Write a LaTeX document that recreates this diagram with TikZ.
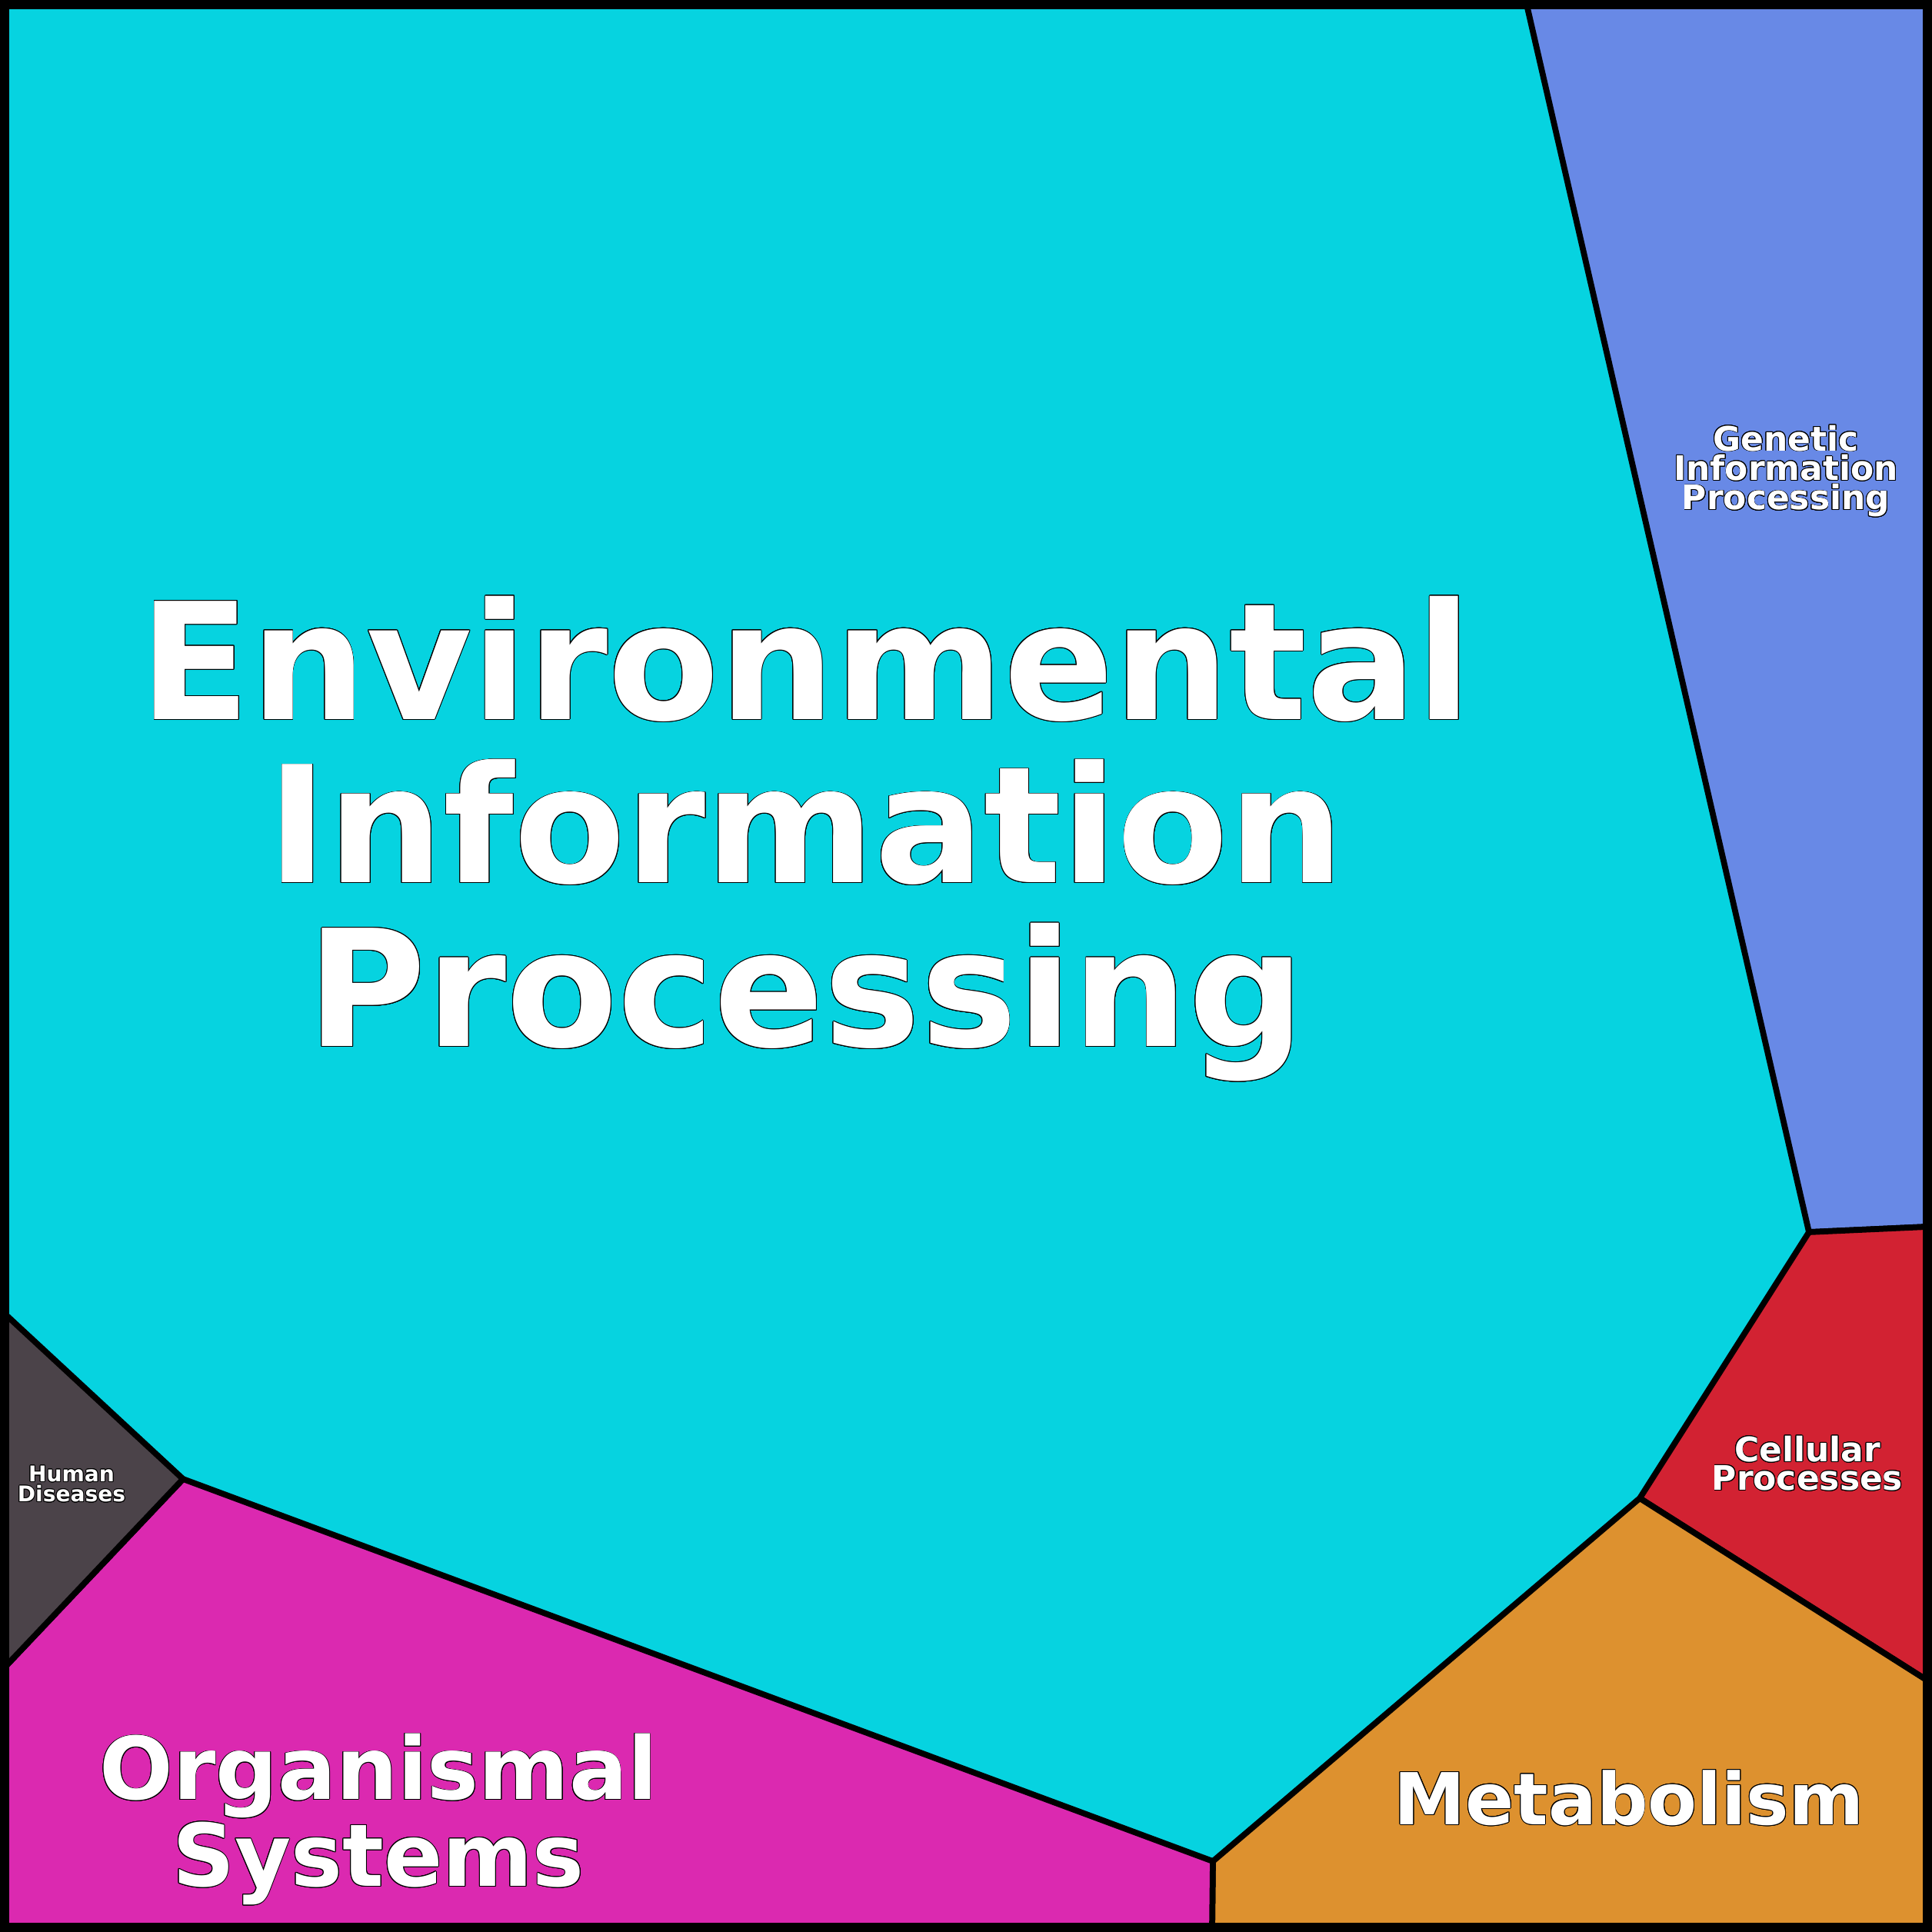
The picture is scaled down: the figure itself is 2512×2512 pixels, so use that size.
\documentclass[tikz,border=0pt]{standalone}
\usepackage{fontspec}
\setmainfont{DejaVu Sans}
\usepackage[copies]{contour}
\contourlength{0.25pt}
\definecolor{envcol}{HTML}{06D3E0}
\definecolor{gencol}{HTML}{6889E6}
\definecolor{celcol}{HTML}{D22232}
\definecolor{metcol}{HTML}{DD912F}
\definecolor{orgcol}{HTML}{DB29B0}
\definecolor{humcol}{HTML}{4B4349}
\newcommand{\ct}[1]{\contour{black}{#1}}

\begin{document}
\begin{tikzpicture}[x=0.01cm,y=-0.01cm,
	cell/.style={draw=black,line width=2.2pt,line join=round},
	lbl/.style={text=white,font=\bfseries,align=center,inner sep=0pt}]
	\useasboundingbox (0,0) rectangle (2512,2512);
	% cells
	\fill[envcol] (6,6) rectangle (2506,2506);
	\draw[cell,fill=gencol] (1985,6) -- (2352,1602) -- (2506,1595) -- (2506,6) -- cycle;
	\draw[cell,fill=celcol] (2352,1602) -- (2506,1595) -- (2506,2185) -- (2132,1948) -- cycle;
	\draw[cell,fill=metcol] (2132,1948) -- (2506,2185) -- (2506,2506) -- (1576,2506) -- (1577,2420) -- cycle;
	\draw[cell,fill=orgcol] (1577,2420) -- (1576,2506) -- (6,2506) -- (6,2168) -- (238,1923) -- cycle;
	\draw[cell,fill=humcol] (6,1708) -- (238,1923) -- (6,2168) -- cycle;
	\draw[line width=3.6pt] (6,6) rectangle (2506,2506);
	% labels
	\node[lbl,font=\bfseries\fontsize{60}{60.5}\selectfont] (env) at (1048,1091)
		{\ct{Environmental}\\\ct{Information}\\\ct{Processing}};
	\node[lbl,font=\bfseries\fontsize{12.5}{8.2}\selectfont] (gen) at (2322,613)
		{\ct{Genetic}\\\ct{Information}\\\ct{Processing}};
	\node[lbl,font=\bfseries\fontsize{12.5}{8.2}\selectfont] (cel) at (2350,1903)
		{\ct{Cellular}\\\ct{Processes}};
	\node[lbl,font=\bfseries\fontsize{8}{5.2}\selectfont] (hum) at (93,1930)
		{\ct{Human}\\\ct{Diseases}};
	\node[lbl,font=\bfseries\fontsize{32}{32}\selectfont] (org) at (492,2366)
		{\ct{Organismal}\\\ct{Systems}};
	\node[lbl,font=\bfseries\fontsize{26.5}{26.5}\selectfont] (met) at (2118,2338)
		{\ct{Metabolism}};
\end{tikzpicture}
\end{document}
